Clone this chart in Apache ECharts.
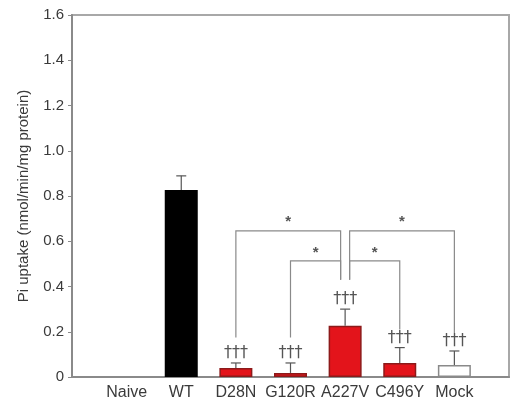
<!DOCTYPE html>
<html>
<head>
<meta charset="utf-8">
<script src="https://cdn.jsdelivr.net/npm/echarts@6/dist/echarts.min.js"></script>
<style>
  html, body { margin: 0; padding: 0; background: #fff; }
  #chart { width: 512px; height: 403px; }
</style>
</head>
<body>
<div id="chart"></div>
<script>
    // padding categories at both ends so the groups sit on whole steps
    var categories = ['', 'Naive', 'WT', 'D28N', 'G120R', 'A227V', 'C496Y', 'Mock', ''];
    var means = [null, 0, 0.827, 0.040, 0.018, 0.226, 0.062, 0.053, null];
    var errors = [null, 0, 0.062, 0.022, 0.044, 0.074, 0.068, 0.062, null];
    var groups = ['none', 'none', 'wt', 'mut', 'mut', 'mut', 'mut', 'mock', 'none'];
    var daggers = [null, null, null, '†††', '†††', '†††', '†††', '†††', null];

    // [side category, hub category, bracket level, side leg end, hub leg end]
    var brackets = [
        [3, 5, 0.646, 0.175, 0.43],
        [4, 5, 0.513, 0.175, 0.43],
        [6, 5, 0.513, 0.210, 0.43],
        [7, 5, 0.646, 0.195, 0.43]
    ];

    var fills = { wt: '#000000', mut: '#e3141b', mock: '#ffffff', none: 'transparent' };
    var borders = { wt: '#000000', mut: '#8c1a1a', mock: '#8a8a8a', none: 'transparent' };

    var barData = means.map(function (v, i) {
        return {
            value: v,
            itemStyle: { color: fills[groups[i]], borderColor: borders[groups[i]], borderWidth: 1.5 }
        };
    });

    var errData = [];
    for (var i = 0; i < means.length; i++) {
        if (means[i] !== null && errors[i] > 0) errData.push([i, means[i], errors[i]]);
    }

    var chart = echarts.init(document.getElementById('chart'));

    chart.setOption({
        animation: false,
        grid: { left: 72, top: 15, right: 2, bottom: 26, show: true, borderColor: '#a8a8a8', borderWidth: 2 },
        xAxis: {
            type: 'category',
            data: categories,
            boundaryGap: false,
            axisLine: { lineStyle: { color: '#8a8a8a', width: 2 } },
            axisTick: { show: false },
            axisLabel: { interval: 0, color: '#3a3a3a', fontSize: 16, fontFamily: 'Liberation Sans, Arial', margin: 8 },
            splitLine: { show: false }
        },
        yAxis: {
            type: 'value',
            min: 0,
            max: 1.6,
            interval: 0.2,
            name: 'Pi uptake (nmol/min/mg protein)',
            nameLocation: 'middle',
            nameGap: 41,
            nameTextStyle: { color: '#3a3a3a', fontSize: 15, fontFamily: 'Liberation Sans, Arial' },
            axisLine: { show: true, lineStyle: { color: '#8a8a8a', width: 2 } },
            axisTick: { show: true, length: 4, lineStyle: { color: '#8a8a8a' } },
            axisLabel: {
                color: '#3a3a3a', fontSize: 15, fontFamily: 'Liberation Sans, Arial', margin: 8,
                formatter: function (v) { return v === 0 ? '0' : v.toFixed(1); }
            },
            splitLine: { show: false }
        },
        series: [
            {
                type: 'bar',
                data: barData,
                barWidth: 33
            },
            {
                type: 'custom',
                data: errData,
                z: 3,
                renderItem: function (params, api) {
                    var idx = api.value(0);
                    var top = api.value(1) + api.value(2);
                    var p0 = api.coord([idx, api.value(1)]);
                    var p1 = api.coord([idx, top]);
                    var children = [
                        { type: 'line', shape: { x1: p0[0], y1: p0[1], x2: p1[0], y2: p1[1] }, style: { stroke: '#555', lineWidth: 1.2 } },
                        { type: 'line', shape: { x1: p1[0] - 5, y1: p1[1], x2: p1[0] + 5, y2: p1[1] }, style: { stroke: '#555', lineWidth: 1.2 } }
                    ];
                    if (daggers[idx]) {
                        children.push({
                            type: 'text',
                            style: {
                                text: daggers[idx], x: p1[0], y: p1[1] - 2,
                                align: 'center', verticalAlign: 'bottom',
                                fill: '#555', font: '16px DejaVu Sans'
                            }
                        });
                    }
                    return { type: 'group', children: children };
                }
            },
            {
                type: 'custom',
                data: brackets,
                z: 3,
                renderItem: function (params, api) {
                    var side = api.value(0), hub = api.value(1), level = api.value(2);
                    var off = side < hub ? -4.5 : 4.5;
                    var a = api.coord([side, level]);
                    var aEnd = api.coord([side, api.value(3)]);
                    var b = api.coord([hub, level]);
                    var bEnd = api.coord([hub, api.value(4)]);
                    var bx = b[0] + off;
                    var mid = (a[0] + bx) / 2;
                    return {
                        type: 'group',
                        children: [
                            {
                                type: 'polyline',
                                shape: { points: [[a[0], aEnd[1]], [a[0], a[1]], [bx, b[1]], [bx, bEnd[1]]] },
                                style: { stroke: '#8a8a8a', lineWidth: 1.2, fill: null }
                            },
                            {
                                type: 'text',
                                style: {
                                    text: '*', x: mid, y: a[1] - 1,
                                    align: 'center', verticalAlign: 'bottom',
                                    fill: '#555', font: 'bold 15px Liberation Sans'
                                }
                            }
                        ]
                    };
                }
            }
        ]
    });
</script>
</body>
</html>
